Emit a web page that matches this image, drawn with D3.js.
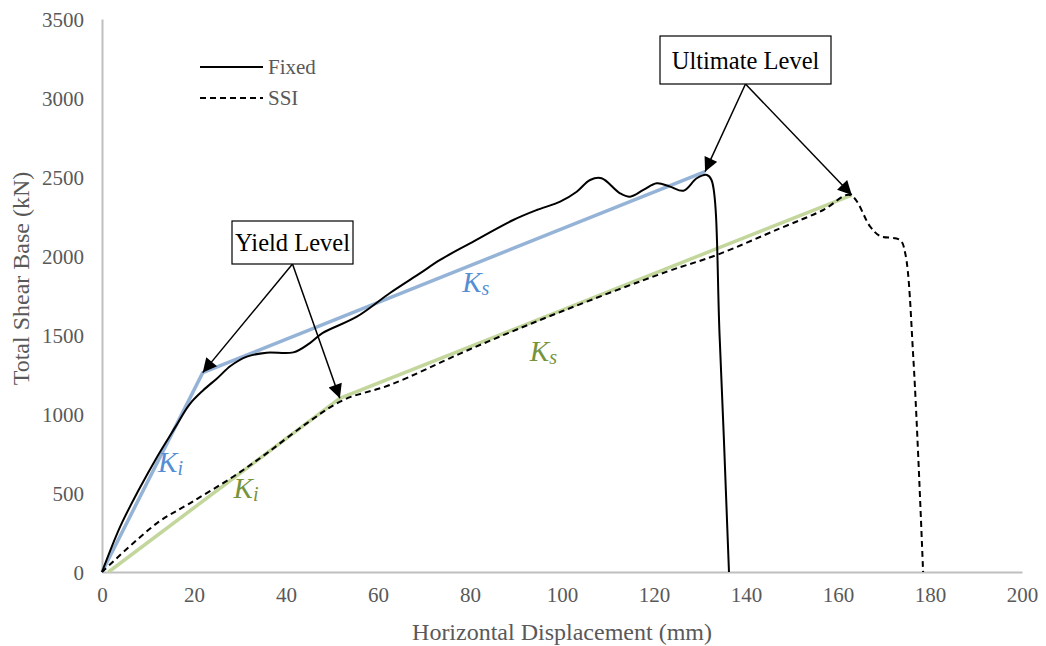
<!DOCTYPE html>
<html>
<head>
<meta charset="utf-8">
<script src="https://cdn.jsdelivr.net/npm/d3@7"></script>
<style>
  body { margin: 0; background: #fff; }
</style>
</head>
<body>
<div id="chart"></div>
<script>
// Chart data (mm, kN)
var fixedDisp = [0, 4, 8, 12, 16, 19, 22, 25, 28, 31.5, 35.8, 41.6, 45.2, 48.0, 55.4, 62.6, 69.1, 73.5, 80, 89.4, 94.5, 99.6, 103.2, 106.1, 108.6, 112.6, 114.8, 117.7, 120.6, 123.5, 126.4, 129.3, 131.5, 132.5, 134.3, 136.3];
var fixedShear = [0, 290, 520, 730, 920, 1060, 1150, 1225, 1305, 1363, 1388, 1390, 1449, 1513, 1616, 1766, 1890, 1975, 2080, 2228, 2291, 2344, 2407, 2481, 2492, 2397, 2375, 2418, 2460, 2439, 2413, 2492, 2513, 2481, 1468, 0];

var ssiDisp = [0, 11.9, 19.1, 28.5, 35.8, 44.5, 52.5, 62.6, 80, 100, 122.8, 133.6, 147.4, 156.8, 162.6, 167, 169.1, 173.5, 174.6, 176.4, 178.5];
var ssiShear = [0, 308, 435, 603, 751, 941, 1089, 1184, 1410, 1650, 1901, 2006, 2175, 2291, 2386, 2186, 2127, 2101, 2019, 1342, 0];

// bilinear idealisations
var fixedIdealDisp = [0, 21.9, 131.1];
var fixedIdealShear = [0, 1262, 2534];
var ssiIdealDisp = [1.4, 51.7, 163];
var ssiIdealShear = [0, 1099, 2386];

var xTicks = [0, 20, 40, 60, 80, 100, 120, 140, 160, 180, 200];
var yTicks = [0, 500, 1000, 1500, 2000, 2500, 3000, 3500];

var svgWidth = 1046;
var svgHeight = 646;
var margin = { top: 19, right: 24, bottom: 74, left: 102 };
var chartWidth = svgWidth - margin.left - margin.right;
var chartHeight = svgHeight - margin.top - margin.bottom;

var font = "Liberation Serif";
var blue = "#95B3D7", blueText = "#558ED5";
var green = "#C3D69B", greenText = "#77933C";

var svg = d3.select("#chart").append("svg")
    .attr("width", svgWidth)
    .attr("height", svgHeight)
    .style("font-family", font);

var defs = svg.append("defs");
defs.append("marker")
    .attr("id", "arrow")
    .attr("viewBox", "0 0 10 10")
    .attr("refX", 10).attr("refY", 5)
    .attr("markerWidth", 16).attr("markerHeight", 14)
    .attr("markerUnits", "userSpaceOnUse")
    .attr("orient", "auto")
    .append("path")
    .attr("d", "M0,0 L10,5 L0,10 z")
    .attr("fill", "#000");

var chartGroup = svg.append("g")
    .attr("transform", `translate(${margin.left}, ${margin.top})`);

var xScale = d3.scaleLinear().domain([0, 200]).range([0, chartWidth]);
var yScale = d3.scaleLinear().domain([0, 3500]).range([chartHeight, 0]);

// axes
var bottomAxis = d3.axisBottom(xScale).tickValues(xTicks).tickFormat(d3.format("d")).tickSize(0).tickPadding(15);
var leftAxis = d3.axisLeft(yScale).tickValues(yTicks).tickFormat(d3.format("d")).tickSize(0).tickPadding(18);

var xg = chartGroup.append("g")
    .attr("transform", `translate(0, ${chartHeight})`)
    .call(bottomAxis);
var yg = chartGroup.append("g").call(leftAxis);

[xg, yg].forEach(function (g) {
    g.attr("font-family", null).attr("font-size", null);
    g.select(".domain").attr("stroke", "#BFBFBF").attr("stroke-width", 2);
    g.selectAll("text")
        .attr("fill", "#595959")
        .style("font-family", font)
        .style("font-size", "21px");
});
yg.selectAll("text").attr("dy", "0.35em");

// axis titles
chartGroup.append("text")
    .attr("transform", "rotate(-90)")
    .attr("x", -(chartHeight / 2) + 17)
    .attr("y", -margin.left + 29)
    .attr("text-anchor", "middle")
    .attr("fill", "#595959")
    .style("font-family", font)
    .style("font-size", "24px")
    .text("Total Shear Base (kN)");

chartGroup.append("text")
    .attr("x", chartWidth / 2)
    .attr("y", chartHeight + 68)
    .attr("text-anchor", "middle")
    .attr("fill", "#595959")
    .style("font-family", font)
    .style("font-size", "24px")
    .text("Horizontal Displacement (mm)");

function zip(xs, ys) {
    return xs.map(function (x, i) { return [x, ys[i]]; });
}

var smoothLine = d3.line()
    .x(d => xScale(d[0]))
    .y(d => yScale(d[1]))
    .curve(d3.curveCatmullRom.alpha(0.5));

var straightLine = d3.line()
    .x(d => xScale(d[0]))
    .y(d => yScale(d[1]));

// idealised lines
chartGroup.append("path")
    .attr("d", straightLine(zip(fixedIdealDisp, fixedIdealShear)))
    .attr("fill", "none")
    .attr("stroke", blue)
    .attr("stroke-width", 3.5);

chartGroup.append("path")
    .attr("d", straightLine(zip(ssiIdealDisp, ssiIdealShear)))
    .attr("fill", "none")
    .attr("stroke", green)
    .attr("stroke-width", 3.5);

// pushover curves
chartGroup.append("path")
    .attr("d", smoothLine(zip(fixedDisp, fixedShear)))
    .attr("fill", "none")
    .attr("stroke", "#000")
    .attr("stroke-width", 2);

chartGroup.append("path")
    .attr("d", smoothLine(zip(ssiDisp, ssiShear)))
    .attr("fill", "none")
    .attr("stroke", "#000")
    .attr("stroke-width", 2)
    .attr("stroke-dasharray", "6,4");

// K labels
function kLabel(x, y, sub, color) {
    var t = chartGroup.append("text")
        .attr("x", xScale(x))
        .attr("y", yScale(y))
        .attr("fill", color)
        .style("font-family", font)
        .style("font-style", "italic")
        .style("font-size", "29px");
    t.append("tspan").text("K");
    t.append("tspan").attr("dy", 3).style("font-size", "20px").text(sub);
}
kLabel(12.2, 630, "i", blueText);
kLabel(78.3, 1772, "s", blueText);
kLabel(28.6, 470, "i", greenText);
kLabel(93.0, 1335, "s", greenText);

// callouts
function callout(cx, cy, w, h, label, targets) {
    targets.forEach(function (t) {
        chartGroup.append("line")
            .attr("x1", cx).attr("y1", cy + h / 2)
            .attr("x2", xScale(t[0])).attr("y2", yScale(t[1]))
            .attr("stroke", "#000")
            .attr("stroke-width", 1.5)
            .attr("marker-end", "url(#arrow)");
    });
    chartGroup.append("rect")
        .attr("x", cx - w / 2).attr("y", cy - h / 2)
        .attr("width", w).attr("height", h)
        .attr("fill", "#fff")
        .attr("stroke", "#000")
        .attr("stroke-width", 1.2);
    chartGroup.append("text")
        .attr("x", cx).attr("y", cy)
        .attr("dy", "0.35em")
        .attr("text-anchor", "middle")
        .attr("fill", "#000")
        .style("font-family", font)
        .style("font-size", "24.5px")
        .text(label);
}
callout(292.5 - margin.left, 242.5 - margin.top, 121, 43, "Yield Level",
    [[fixedIdealDisp[1], fixedIdealShear[1]], [ssiIdealDisp[1], ssiIdealShear[1]]]);
callout(745.5 - margin.left, 60 - margin.top, 171, 48, "Ultimate Level",
    [[fixedIdealDisp[2], fixedIdealShear[2]], [ssiIdealDisp[2], ssiIdealShear[2]]]);

// legend
var legend = chartGroup.append("g").attr("transform", "translate(98, 48)");
[["Fixed", null], ["SSI", "6,4"]].forEach(function (d, i) {
    var row = legend.append("g").attr("transform", `translate(0, ${i * 31})`);
    row.append("line")
        .attr("x1", 0).attr("x2", 63)
        .attr("stroke", "#000").attr("stroke-width", 2)
        .attr("stroke-dasharray", d[1]);
    row.append("text")
        .attr("x", 68).attr("dy", "0.35em")
        .attr("fill", "#595959")
        .style("font-family", font)
        .style("font-size", "21px")
        .text(d[0]);
});
</script>
</body>
</html>
